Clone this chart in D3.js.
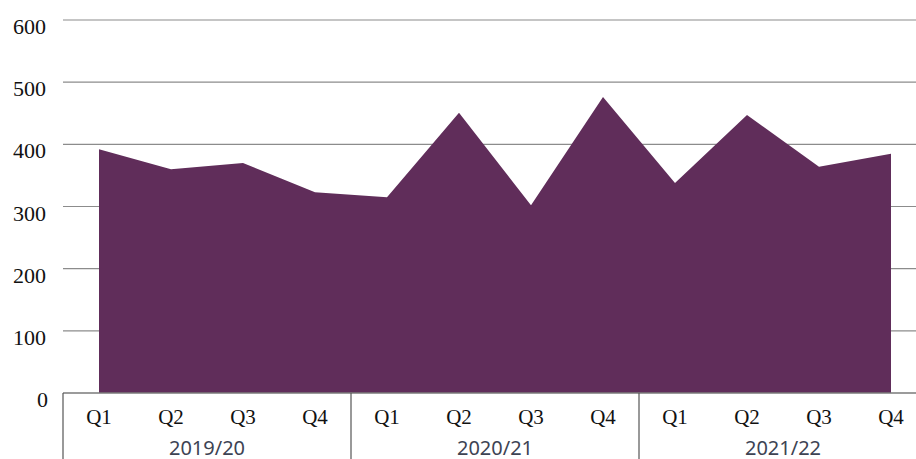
<!DOCTYPE html>
<html><head><meta charset="utf-8">
<script src="https://cdn.jsdelivr.net/npm/d3@7"></script>
<style>body{margin:0;background:#fff}svg{display:block}</style>
</head><body>
<svg id="c" width="916" height="459"></svg>
<script>
const years = ["2019/20", "2020/21", "2021/22"];
const quarters = ["Q1", "Q2", "Q3", "Q4"];
const values = [392, 360, 370, 323, 315, 451, 302, 476, 338, 447, 364, 385];
const yTicks = [0, 100, 200, 300, 400, 500, 600];

const data = [];
years.forEach((yr, i) => quarters.forEach((q, j) => data.push({key: yr + " " + q, year: yr, q: q, v: values[i * 4 + j]})));

const svg = d3.select("#c");
const mLeft = 63, mRight = 927, mTop = 20, mBottom = 393;

const x = d3.scaleBand().domain(data.map(d => d.key)).range([mLeft, mRight]).padding(0);
const xYear = d3.scaleBand().domain(years).range([mLeft, mRight]).padding(0);
const y = d3.scaleLinear().domain([0, 600]).range([mBottom, mTop]);

// gridlines
svg.append("g").selectAll("line").data(yTicks.filter(t => t > 0)).join("line")
  .attr("x1", mLeft).attr("x2", 916)
  .attr("y1", d => y(d)).attr("y2", d => y(d))
  .attr("stroke", "#8c8c8c").attr("stroke-width", 1.2);

// area
const area = d3.area()
  .x(d => x(d.key) + x.bandwidth() / 2)
  .y0(y(0)).y1(d => y(d.v));
svg.append("path").datum(data).attr("d", area).attr("fill", "#602d5a");

// baseline
svg.append("line").attr("x1", mLeft).attr("x2", 916).attr("y1", y(0)).attr("y2", y(0))
  .attr("stroke", "#7a7a7a").attr("stroke-width", 1.5);

// y labels
svg.append("g").selectAll("text").data(yTicks).join("text")
  .attr("x", d => d === 0 ? 48 : 46).attr("y", d => y(d) + 14)
  .attr("text-anchor", "end")
  .attr("font-family", "'Liberation Serif', 'Times New Roman', serif")
  .attr("font-size", 22).attr("fill", "#111")
  .text(d => d);

// quarter labels
svg.append("g").selectAll("text").data(data).join("text")
  .attr("x", d => x(d.key) + x.bandwidth() / 2).attr("y", 424)
  .attr("text-anchor", "middle")
  .attr("font-family", "'Liberation Serif', 'Times New Roman', serif")
  .attr("font-size", 21).attr("fill", "#111")
  .text(d => d.q);

// year labels
svg.append("g").selectAll("text").data(years).join("text")
  .attr("x", d => xYear(d) + xYear.bandwidth() / 2).attr("y", 455)
  .attr("text-anchor", "middle")
  .attr("font-family", "'Noto Sans', 'Open Sans', sans-serif")
  .attr("font-size", 20).attr("fill", "#3d4353")
  .text(d => d);

// dividers
svg.append("g").selectAll("line").data(years.concat(["end"])).join("line")
  .attr("x1", (d, i) => i < years.length ? xYear(d) : mRight)
  .attr("x2", (d, i) => i < years.length ? xYear(d) : mRight)
  .attr("y1", mBottom).attr("y2", 459)
  .attr("stroke", "#555").attr("stroke-width", 1.2);
</script>
</body></html>
